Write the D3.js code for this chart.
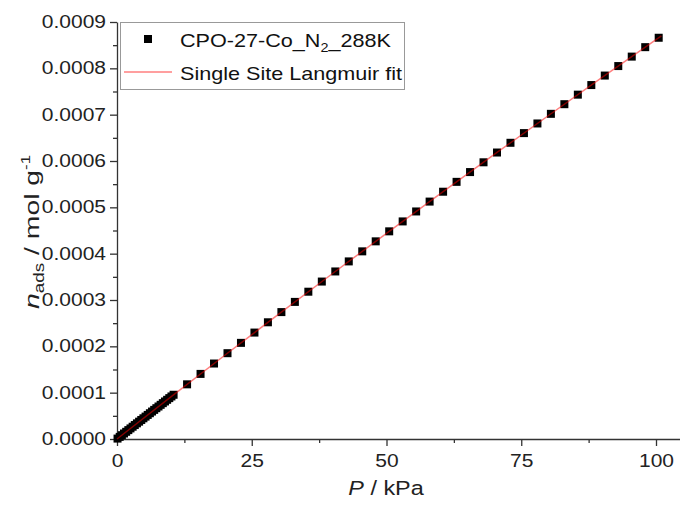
<!DOCTYPE html>
<html><head><meta charset="utf-8">
<script src="https://cdn.jsdelivr.net/npm/d3@7"></script>
<style>body{margin:0;background:#fff}svg{display:block;font-family:"Liberation Sans",Arial,sans-serif}</style>
</head><body><svg id="c" width="680" height="506"></svg>
<script>
const pressure = [0.1,0.5,0.9,1.3,1.7,2.1,2.5,2.9,3.3,3.7,4.1,4.5,4.9,5.3,5.7,6.1,6.5,6.9,7.3,7.7,8.1,8.5,8.9,9.3,9.7,10.1,10.5,
  13.0,15.5,18.0,20.5,23.0,25.5,28.0,30.5,33.0,35.5,38.0,40.5,43.0,45.5,48.0,50.5,53.0,55.5,58.0,60.5,63.0,65.5,68.0,70.5,73.0,75.5,78.0,80.5,83.0,85.5,88.0,90.5,93.0,95.5,98.0,100.5];
const nads = [0.9,4.57,8.23,11.89,15.54,19.19,22.84,26.49,30.13,33.78,37.42,41.06,44.70,48.34,51.97,55.61,59.24,62.87,66.50,70.12,73.75,77.37,80.99,84.61,88.23,91.84,95.46,
  118.0,140.5,162.9,185.2,207.5,229.7,251.9,273.9,295.9,317.9,339.8,361.6,383.3,405.0,426.6,448.2,469.6,491.1,512.4,533.7,555.0,576.1,597.2,618.3,639.3,660.2,681.0,701.8,722.6,743.2,763.9,784.4,804.9,825.3,845.7,866.0].map(v=>v*1e-6);
const fitP = [0,10,20,30,40,50,60,70,80,90,101];
const fitN = [0,90.94,180.78,269.53,357.21,443.85,529.46,614.07,697.68,780.31,870.10].map(v=>v*1e-6);
const xTicks = [0,25,50,75,100];
const yTicks = [0,0.0001,0.0002,0.0003,0.0004,0.0005,0.0006,0.0007,0.0008,0.0009];
const legendLabels = ["CPO-27-Co_N","Single Site Langmuir fit"];

const SX = 1.2; // horizontal stretch of the reference's text
const svg = d3.select("#c");
const x = d3.scaleLinear().domain([0,100]).range([117,656]);
const y = d3.scaleLinear().domain([0,0.0009]).range([439,22]);

function stretch(sel){ sel.each(function(){ const w=this.getComputedTextLength(); d3.select(this).attr("textLength",w*SX).attr("lengthAdjust","spacingAndGlyphs"); }); }

const xMinor = [12.5,37.5,62.5,87.5];
const yMinor = d3.range(0.00005,0.0009,0.0001);

const gx = svg.append("g").attr("transform","translate(0,439)");
gx.call(d3.axisBottom(x).tickValues(xMinor).tickSize(4).tickFormat(""));
gx.call(g=>g.select(".domain").remove());
const gx2 = svg.append("g").attr("transform","translate(0,439)");
gx2.call(d3.axisBottom(x).tickValues(xTicks).tickSize(7).tickSizeOuter(0).tickPadding(9).tickFormat(d3.format("d")));
gx2.select(".domain").attr("d","M117,0.5H680");
const gy = svg.append("g").attr("transform","translate(117,0)");
gy.call(d3.axisLeft(y).tickValues(yMinor).tickSize(4).tickFormat(""));
gy.call(g=>g.select(".domain").remove());
const gy2 = svg.append("g").attr("transform","translate(117,0)");
gy2.call(d3.axisLeft(y).tickValues(yTicks).tickSize(7).tickSizeOuter(0).tickPadding(4).tickFormat(d3.format(".4f")));
svg.selectAll(".tick text").attr("font-size",17.5).attr("fill","#222").attr("font-family","Liberation Sans, Arial, sans-serif");
gy2.selectAll(".tick text").attr("x",-11);
stretch(svg.selectAll(".tick text"));
svg.selectAll(".domain,.tick line").attr("stroke","#333").attr("stroke-width",1.3);

// points
svg.append("g").selectAll("rect").data(pressure).join("rect")
  .attr("x",(d)=>x(d)-4).attr("y",(d,i)=>y(nads[i])-4)
  .attr("width",8).attr("height",8).attr("fill","#000");
// fit line
svg.append("path").datum(fitP)
  .attr("d",d3.line().x(d=>x(d)).y((d,i)=>y(fitN[i])))
  .attr("fill","none").attr("stroke","#ff0000").attr("stroke-opacity",0.5).attr("stroke-width",1.5);

// legend
const lg = svg.append("g");
lg.append("rect").attr("x",120.5).attr("y",22.5).attr("width",284).attr("height",67)
  .attr("fill","#fff").attr("stroke","#999").attr("stroke-width",1);
lg.append("rect").attr("x",144).attr("y",35).attr("width",8).attr("height",8).attr("fill","#000");
const t1 = lg.append("g").attr("transform",`translate(180,47) scale(${SX},1)`).append("text").attr("font-size",18).attr("fill","#111");
t1.append("tspan").text(legendLabels[0]);
t1.append("tspan").attr("font-size",12).attr("dy",5).text("2");
t1.append("tspan").attr("dy",-5).text("_288K");
lg.append("line").attr("x1",124).attr("x2",172).attr("y1",72).attr("y2",72)
  .attr("stroke","#ff0000").attr("stroke-opacity",0.5).attr("stroke-width",1.5);
lg.append("g").attr("transform",`translate(180,80) scale(${SX},1)`).append("text").attr("font-size",18).attr("fill","#111").text(legendLabels[1]);

// axis titles
const xt = svg.append("g").attr("transform",`translate(386,495) scale(${SX},1)`).append("text").attr("text-anchor","middle").attr("font-size",19.5).attr("fill","#222");
xt.append("tspan").attr("font-style","italic").text("P");
xt.append("tspan").text(" / kPa");
const yt = svg.append("g").attr("transform",`translate(39,232) rotate(-90) scale(1.35,1)`).append("text").attr("text-anchor","middle").attr("font-size",21).attr("fill","#222");
yt.append("tspan").attr("font-style","italic").text("n");
yt.append("tspan").attr("font-size",14).attr("dy",5).text("ads");
yt.append("tspan").attr("dy",-5).text(" / mol g");
yt.append("tspan").attr("font-size",12.5).attr("dy",-9).text("-1");
</script></body></html>
